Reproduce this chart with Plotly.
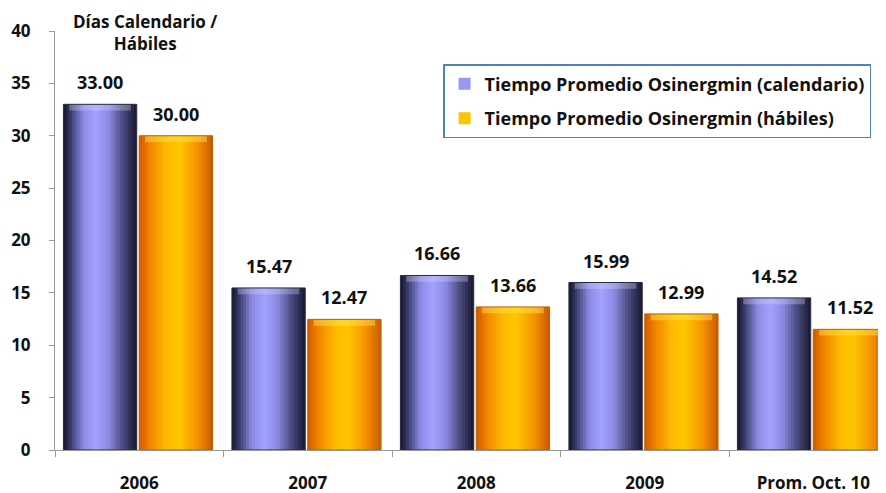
import plotly.graph_objects as go

# datos
categorias = ["2006", "2007", "2008", "2009", "Prom. Oct. 10"]
calendario = [33.00, 15.47, 16.66, 15.99, 14.52]
habiles = [30.00, 12.47, 13.66, 12.99, 11.52]
nombres = ["Tiempo Promedio Osinergmin (calendario)",
           "Tiempo Promedio Osinergmin (hábiles)"]
y_ticks = [0, 5, 10, 15, 20, 25, 30, 35, 40]

FONT = "Open Sans"
PX_CAT = 168.5          # ancho de una categoria en px
ANCHO = 0.435           # ancho de cada barra (unidades de categoria)
OFFSETS = [-0.45, 0.0]
N_TIRAS = 26

# gradiente horizontal tipo cilindro
degradados = [
    [(0.0, "#14142a"), (0.1, "#3c3c6e"), (0.28, "#8c8ce8"), (0.45, "#a2a2ff"),
     (0.62, "#8a8ae2"), (0.8, "#4e4e84"), (1.0, "#181830")],
    [(0.0, "#d45800"), (0.14, "#f08400"), (0.38, "#ffbc00"), (0.55, "#ffc600"),
     (0.8, "#f59200"), (1.0, "#c85800")],
]
bordes = ["#2a2a40", "#b86000"]
brillo = ["rgba(225,225,255,0.3)", "rgba(255,232,80,0.45)"]


def hex_rgb(h):
    h = h.lstrip("#")
    return [int(h[i:i + 2], 16) for i in (0, 2, 4)]


def mezcla(stops, t):
    for (t0, c0), (t1, c1) in zip(stops, stops[1:]):
        if t <= t1:
            a, b = hex_rgb(c0), hex_rgb(c1)
            f = (t - t0) / (t1 - t0) if t1 > t0 else 0
            return "rgb(%d,%d,%d)" % tuple(round(x + (y - x) * f) for x, y in zip(a, b))
    return stops[-1][1]


fig = go.Figure()

for s, valores in enumerate([calendario, habiles]):
    paso = ANCHO / N_TIRAS
    for i in range(N_TIRAS):
        t = (i + 0.5) / N_TIRAS
        ultimo = i == N_TIRAS - 1
        fig.add_trace(go.Bar(
            x=categorias, y=valores,
            offset=OFFSETS[s] + i * paso,
            width=paso if ultimo else paso * 1.4,
            marker=dict(color=mezcla(degradados[s], t), line=dict(width=0)),
            name=nombres[s], legendgroup=nombres[s],
            showlegend=(i == N_TIRAS // 2),
            hoverinfo="skip",
        ))
    # brillo superior (bisel)
    fig.add_trace(go.Bar(
        x=categorias, y=[0.6] * len(valores), base=[v - 0.6 for v in valores],
        offset=OFFSETS[s] + ANCHO * 0.08, width=ANCHO * 0.84,
        marker=dict(color=brillo[s], line=dict(width=0)),
        showlegend=False, hoverinfo="skip",
    ))
    # contorno
    fig.add_trace(go.Bar(
        x=categorias, y=valores, offset=OFFSETS[s], width=ANCHO,
        marker=dict(color="rgba(0,0,0,0)", line=dict(color=bordes[s], width=1)),
        showlegend=False, hoverinfo="skip",
    ))
    # etiquetas de datos (x por indice: "2006" se leeria como numero)
    centro = (OFFSETS[s] + ANCHO / 2) * PX_CAT
    for k, v in enumerate(valores):
        fig.add_annotation(
            x=k, y=v, text="%.2f" % v, showarrow=False,
            xshift=centro, yshift=8, yanchor="bottom",
            font=dict(family=FONT, size=18, color="#111111", weight="bold"),
        )

fig.add_annotation(
    xref="paper", yref="paper", x=0.108, y=1.055, xanchor="center", yanchor="top",
    text="Días Calendario /<br>Hábiles", showarrow=False,
    font=dict(family=FONT, size=17, color="#111111", weight="bold"),
)

# la pagina deja 8 px de margen: figura algo menor que la ventana
fig.update_layout(
    width=878, height=485,
    barmode="overlay",
    paper_bgcolor="white", plot_bgcolor="white",
    margin=dict(l=47, r=0, t=23, b=43),
    font=dict(family=FONT, size=17, color="#111111", weight="bold"),
    legend=dict(
        x=0.467, y=0.921, xanchor="left", yanchor="top",
        bordercolor="#4f81bd", borderwidth=1.5, bgcolor="white",
        font=dict(family=FONT, size=18, color="#111111", weight="bold"),
        tracegroupgap=8,
    ),
    xaxis=dict(
        type="category", range=[-0.5, -0.5 + 831 / PX_CAT],
        tickson="boundaries", ticks="outside", ticklen=6, tickcolor="#999999",
        showline=True, linecolor="#999999", linewidth=1, showgrid=False,
        ticklabelstandoff=18, automargin=False,
    ),
    yaxis=dict(
        range=[0, 40], tickvals=y_ticks, ticks="outside", ticklen=5,
        tickcolor="#999999", showline=True, linecolor="#999999", linewidth=1,
        showgrid=False, zeroline=False, ticklabelstandoff=15, automargin=False,
    ),
)

fig.write_html("out.html")
